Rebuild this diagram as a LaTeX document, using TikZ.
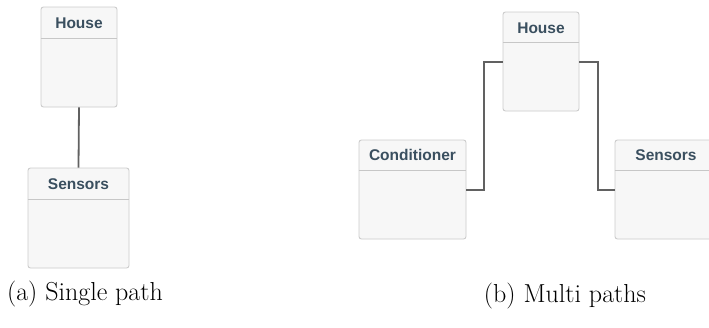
\documentclass[tikz,border=0pt]{standalone}
\usepackage{fontspec}
\newfontfamily\boxfont{Liberation Sans}
\begin{document}
\begin{tikzpicture}[x=1pt,y=-1pt,
  classbox/.style={draw=black!20, line width=0.9pt, rounded corners=2.5pt, fill=black!3, inner sep=0pt, minimum width=#1},
  classbox/.default=76pt,
  title/.style={font=\boxfont\bfseries\fontsize{15.5}{18}\selectfont, text=titlecol, inner sep=0pt, anchor=center},
  divider/.style={draw=black!22, line width=0.8pt},
  wire/.style={draw=black!62, line width=1.8pt},
  caption/.style={font=\fontsize{26}{30}\selectfont, inner sep=0pt}]
\definecolor{titlecol}{HTML}{3A4F5F}
\clip (0,0) rectangle (709,327);
\fill[white] (0,0) rectangle (709,327);
% (a) single path
\node[classbox=76pt, minimum height=100pt] (h1) at (79,57) {};
\node[classbox=101pt, minimum height=100pt] (s1) at (78.5,218) {};
\draw[divider] (h1.west |- 0,38) -- (h1.east |- 0,38);
\draw[divider] (s1.west |- 0,199) -- (s1.east |- 0,199);
\node[title] (h1t) at (79,23) {House};
\node[title] (s1t) at (78.5,184) {Sensors};
\draw[wire] (h1.south) -- (s1.north);
\node[caption] (ca) at (85,294) {(a) Single path};
% (b) multi paths
\node[classbox=76pt, minimum height=99pt] (h2) at (541,61.5) {};
\node[classbox=107pt, minimum height=99pt] (c2) at (412.5,189.5) {};
\node[classbox=102pt, minimum height=99pt] (s2) at (666,189.5) {};
\draw[divider] (h2.west |- 0,42) -- (h2.east |- 0,42);
\draw[divider] (c2.west |- 0,170) -- (c2.east |- 0,170);
\draw[divider] (s2.west |- 0,170) -- (s2.east |- 0,170);
\node[title] (h2t) at (541,28) {House};
\node[title] (c2t) at (412.5,155) {Conditioner};
\node[title] (s2t) at (666,155) {Sensors};
\coordinate (hl) at (h2.west |- 0,62);
\coordinate (hr) at (h2.east |- 0,62);
\coordinate (cr) at (c2.east |- 0,190);
\coordinate (sl) at (s2.west |- 0,190);
\draw[wire] (hl) -| (484,126) |- (cr);
\draw[wire] (hr) -| (598,126) |- (sl);
\node[caption] (cb) at (565,296) {(b) Multi paths};
\end{tikzpicture}
\end{document}
